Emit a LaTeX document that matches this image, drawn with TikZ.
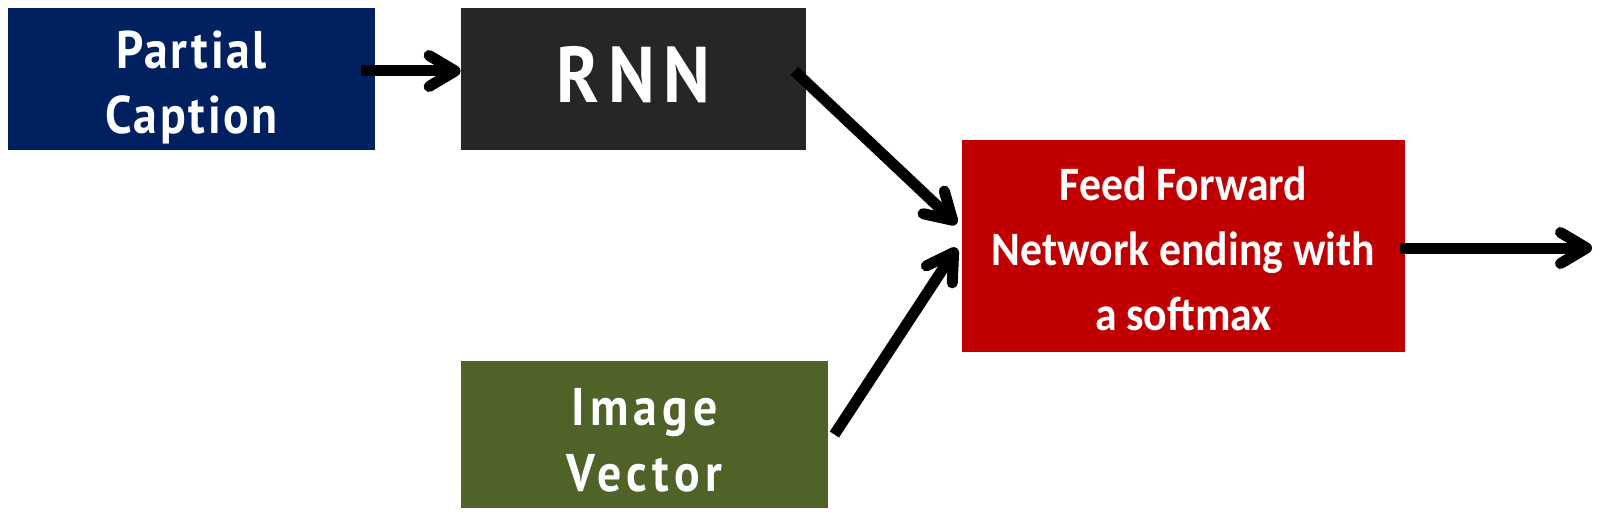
\documentclass[tikz,border=0pt]{standalone}
\usepackage{fontspec}
\usepackage{xcolor}
\usepackage{tikz}
\usetikzlibrary{arrows.meta}
\newfontfamily\boxfont[LetterSpace=5,FakeStretch=0.9]{PT Sans}
\newfontfamily\ffnfont[FakeStretch=0.91]{Carlito}
\definecolor{capblue}{HTML}{002060}
\definecolor{rnngray}{HTML}{262626}
\definecolor{ffnred}{HTML}{C00000}
\definecolor{imgolive}{HTML}{4F6228}
\newcommand{\boxlines}[2]{\raisebox{#1}[\height][\depth]{\begin{tabular}{@{}c@{}}#2\end{tabular}}}

\begin{document}
\begin{tikzpicture}[x=0.5pt,y=-0.5pt,
  blk/.style={rectangle,inner sep=0pt,text=white,align=center},
  arr/.style={-{Straight Barb[length=13pt,width=15.5pt,line cap=round,round]},line width=5.5pt,black}]
  \useasboundingbox (0,0) rectangle (1600,519);
  \node[blk,fill=capblue,minimum width=183.5pt,minimum height=71pt,font=\boxfont\bfseries\fontsize{26.5}{32.5}\selectfont] (cap) at (191.5,79) {\boxlines{-4.5pt}{Partial\\Caption}};
  \node[blk,fill=rnngray,minimum width=172.5pt,minimum height=71pt,font=\boxfont\bfseries\fontsize{39.5}{40}\selectfont\addfontfeatures{LetterSpace=11}] (rnn) at (633.5,79) {\raisebox{2pt}[\height][\depth]{RNN}};
  \node[blk,fill=ffnred,minimum width=221.5pt,minimum height=106pt,font=\ffnfont\bfseries\fontsize{24}{32.5}\selectfont] (ffn) at (1183.5,246) {\boxlines{-3pt}{Feed Forward\\Network ending with\\a softmax}};
  \node[blk,fill=imgolive,minimum width=183.5pt,minimum height=73.5pt,font=\boxfont\bfseries\fontsize{26.5}{33}\selectfont\addfontfeatures{LetterSpace=10}] (img) at (644.5,434.5) {\boxlines{-5.5pt}{Image\\Vector}};
  \coordinate (out) at (1592,248);
  \draw[arr] ([shift={(-14,-8)}]cap.east) -- ([shift={(0,-8)}]rnn.west);
  \draw[arr] ([shift={(-12,-8)}]rnn.east) -- ([shift={(-5,-22)}]ffn.west);
  \draw[arr] ([shift={(6,0)}]img.east) -- ([shift={(-5,2)}]ffn.west);
  \draw[arr] ([shift={(-5,2)}]ffn.east) -- (out);
\end{tikzpicture}
\end{document}
